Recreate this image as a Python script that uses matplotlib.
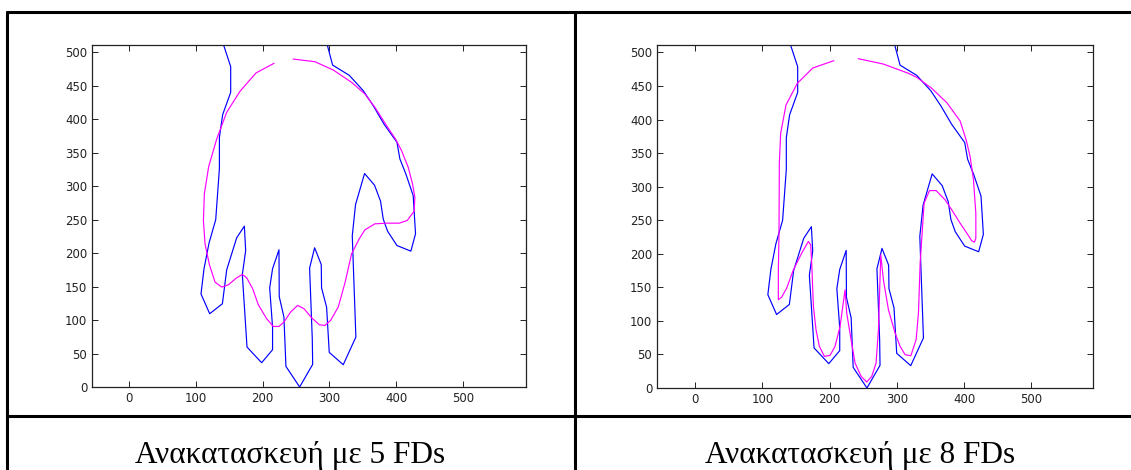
import matplotlib
matplotlib.use("Agg")
import matplotlib.pyplot as plt
from matplotlib.lines import Line2D

# ---- data ----
hand_x = [139.5, 152.4, 152.4, 140.4, 135.5, 135.5, 130.0, 120.0, 112.5, 108.0, 121.0, 140.0,
          146.4, 161.4, 172.8, 174.8, 169.8, 176.8, 198.7, 215.0, 215.0, 210.7, 215.0, 224.6,
          225.0, 232.0, 235.0, 255.5, 275.0, 274.4, 270.4, 277.9, 287.8, 288.3, 295.8, 299.8,
          320.7, 339.6, 334.2, 339.1, 352.6, 367.5, 376.5, 380.5, 387.0, 401.0, 421.8, 428.8,
          425.3, 414.3, 405.4, 401.0, 381.5, 365.5, 350.6, 329.7, 304.8, 295.0]
hand_y = [518.0, 478.6, 440.3, 407.0, 373.0, 326.0, 250.0, 215.0, 176.6, 139.0, 109.5, 124.4,
          175.0, 223.0, 240.3, 204.0, 168.0, 59.7, 36.3, 55.7, 89.6, 148.0, 176.6, 205.0,
          135.0, 104.5, 30.8, 0.0, 33.8, 72.0, 177.6, 208.0, 183.0, 148.0, 119.4, 51.7,
          33.3, 74.6, 226.0, 272.6, 319.0, 301.5, 277.6, 251.0, 232.8, 211.4, 203.0, 228.9,
          286.0, 318.4, 340.8, 365.7, 393.0, 420.4, 442.8, 465.7, 481.0, 518.0]

fd5_x = [217.1, 190.2, 166.3, 146.4, 131.5, 119.5, 113.0, 111.6, 114.0, 120.5, 129.0, 139.0,
         149.0, 161.4, 169.8, 176.3, 185.3, 193.7, 206.2, 216.1, 224.6, 232.0, 242.0, 252.5,
         262.0, 273.4, 284.9, 293.3, 301.8, 313.2, 323.2, 333.2, 344.6, 353.1, 368.0, 385.5,
         404.4, 416.3, 426.8, 427.8, 424.3, 417.8, 407.9, 399.4, 385.5, 368.0, 353.1, 333.2,
         305.8, 278.4, 246.0]
fd5_y = [483.6, 469.2, 441.8, 410.4, 370.6, 329.4, 288.6, 248.8, 214.0, 183.0, 156.7, 149.3,
         152.7, 163.2, 168.2, 163.2, 146.8, 122.9, 102.0, 90.5, 90.5, 97.0, 112.0, 121.9,
         117.0, 103.5, 93.0, 92.0, 99.5, 119.4, 155.2, 199.0, 221.4, 234.8, 243.8, 244.8,
         244.8, 248.8, 262.7, 283.6, 303.5, 328.4, 353.2, 369.7, 390.5, 418.0, 437.8, 455.2,
         473.6, 486.0, 490.0]

fd8_x = [206.0, 174.8, 151.9, 135.0, 127.1, 125.1, 124.6, 123.6, 123.6, 128.6, 136.0, 146.0,
         158.4, 168.3, 171.8, 173.3, 175.8, 179.7, 184.7, 192.2, 200.6, 208.0, 215.5, 222.9,
         225.4, 231.9, 237.8, 246.8, 255.2, 262.7, 269.1, 272.6, 276.1, 280.0, 287.5, 297.4,
         304.9, 312.3, 320.8, 328.7, 332.2, 334.7, 340.6, 348.6, 358.5, 371.9, 381.8, 394.2,
         404.2, 411.6, 415.6, 417.6, 417.6, 414.1, 409.1, 403.2, 394.2, 374.4, 352.0, 329.7,
         317.3, 280.0, 242.8]
fd8_y = [487.6, 476.7, 453.9, 421.6, 379.5, 334.8, 230.7, 171.1, 131.4, 135.4, 148.8, 176.0,
         200.9, 218.3, 213.3, 186.0, 121.5, 86.8, 62.0, 47.1, 48.6, 62.0, 91.8, 146.3,
         111.6, 71.9, 37.2, 17.4, 8.9, 17.4, 37.2, 86.8, 198.4, 161.2, 116.6, 81.8,
         62.0, 49.6, 48.1, 71.9, 111.6, 186.0, 275.3, 294.1, 294.1, 280.3, 265.4, 245.5,
         230.7, 219.2, 217.3, 223.2, 260.4, 310.0, 344.7, 369.5, 397.8, 425.1, 446.4, 462.8,
         468.8, 482.6, 490.6]

x_ticks = [0, 100, 200, 300, 400, 500]
y_ticks = [0, 50, 100, 150, 200, 250, 300, 350, 400, 450, 500]
captions = ["Ανακατασκευή με 5 FDs", "Ανακατασκευή με 8 FDs"]

W, H = 1131, 470
fig = plt.figure(figsize=(W / 100, H / 100), dpi=100)
fig.patch.set_facecolor("white")


def px_rect(l, t, r, b):
    return [l / W, 1 - b / H, (r - l) / W, (b - t) / H]


panels = [
    dict(rect=px_rect(92, 45, 526, 387), xlim=(-55, 594), fx=fd5_x, fy=fd5_y),
    dict(rect=px_rect(657, 45, 1093, 388), xlim=(-57, 592), fx=fd8_x, fy=fd8_y),
]

for p in panels:
    ax = fig.add_axes(p["rect"])
    ax.plot(hand_x, hand_y, color="#0000ff", lw=0.85)
    ax.plot(p["fx"], p["fy"], color="#ff00ff", lw=0.85)
    ax.set_xlim(*p["xlim"])
    ax.set_ylim(0, 511)
    ax.set_xticks(x_ticks)
    ax.set_yticks(y_ticks)
    ax.tick_params(direction="in", length=4, width=0.7, top=True, right=True,
                   labelsize=8.5, colors="#222222", pad=3.5)
    for lab in ax.get_xticklabels() + ax.get_yticklabels():
        lab.set_fontfamily("DejaVu Sans")
    for s in ax.spines.values():
        s.set_linewidth(0.9)
        s.set_color("#222222")

# table borders
lw_b = 2.2
def hline(y, x0, x1):
    fig.add_artist(Line2D([x0 / W, x1 / W], [1 - y / H, 1 - y / H], color="black",
                          lw=lw_b, transform=fig.transFigure, solid_capstyle="butt"))
def vline(x, y0, y1):
    fig.add_artist(Line2D([x / W, x / W], [1 - y0 / H, 1 - y1 / H], color="black",
                          lw=lw_b, transform=fig.transFigure, solid_capstyle="butt"))

hline(11.7, 5.6, W)
hline(415.7, 5.6, W)
vline(6.7, 10.6, H)
vline(575, 10.6, H)

fig.text(290 / W, 1 - 463 / H, captions[0], ha="center", va="baseline",
         fontsize=22.5, family="Liberation Serif", color="black")
fig.text(860 / W, 1 - 463 / H, captions[1], ha="center", va="baseline",
         fontsize=22.5, family="Liberation Serif", color="black")

fig.savefig("out.png", dpi=100)
